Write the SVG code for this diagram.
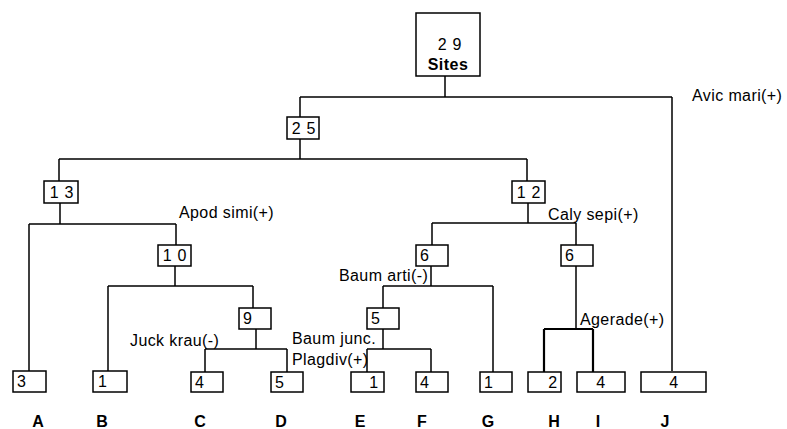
<svg xmlns="http://www.w3.org/2000/svg" width="787" height="429" viewBox="0 0 787 429">
<style>
.box{fill:#fff;stroke:#000;stroke-width:1.5}
.ln{fill:none;stroke:#000;stroke-width:1.5}
.bold{stroke-width:2.2}
text{font-family:"Liberation Sans",Arial,sans-serif;fill:#000}
.num{font-size:16px;letter-spacing:0.8px}
.lab{font-size:16px;letter-spacing:0.4px}
.leaf{font-size:16px;font-weight:bold;text-anchor:middle}
</style>
<rect width="787" height="429" fill="#fff"/>
<g id="connectors">
<path class="ln" d="M445,76V97M300,97H672M300,97V117M672,97V371"/>
<path class="ln" d="M300,139V159M59,159H527M59,159V181M527,159V181"/>
<path class="ln" d="M60,203V224M29,224H176M29,224V371M176,224V245"/>
<path class="ln" d="M175,266V286M108,286H253M108,286V371M253,286V308"/>
<path class="ln" d="M256,329V349M205,349H287M205,349V372M287,349V372"/>
<path class="ln" d="M528,203V223M432,223H576M432,223V245M576,223V245"/>
<path class="ln" d="M431,266V286M383,286H493M383,286V308M493,286V372"/>
<path class="ln" d="M383,329V349M367,349H431M367,349V372M431,349V372"/>
<path class="ln" d="M576,266V329"/>
<path class="ln bold" d="M544,329H593M544,329V372M593,329V372"/>
</g>
<g id="labels">
<text class="lab" x="692" y="101">Avic mari(+)</text>
<text class="lab" x="179" y="218">Apod simi(+)</text>
<text class="lab" x="548" y="220">Caly sepi(+)</text>
<text class="lab" x="339" y="281">Baum arti(-)</text>
<text class="lab" x="130" y="346">Juck krau(-)</text>
<text class="lab" x="292" y="344">Baum junc.</text>
<text class="lab" x="292" y="365">Plagdiv(+)</text>
<text class="lab" x="580" y="325">Agerade(+)</text>
</g>
<g id="root"><rect class="box" x="416" y="13" width="64" height="63"/><text class="num" x="450" y="50" text-anchor="middle">2 9</text><text x="448" y="70" text-anchor="middle" style="font-size:16px;font-weight:bold;letter-spacing:0.5px">Sites</text></g>
<g id="n25"><rect class="box" x="287" y="117" width="32" height="22"/><text class="num" x="304" y="134" text-anchor="middle">2 5</text></g>
<g id="n13"><rect class="box" x="44" y="181" width="34" height="22"/><text class="num" x="62" y="198" text-anchor="middle">1 3</text></g>
<g id="n12"><rect class="box" x="512" y="181" width="33" height="22"/><text class="num" x="529" y="198" text-anchor="middle">1 2</text></g>
<g id="n10"><rect class="box" x="158" y="245" width="33" height="21"/><text class="num" x="175" y="261" text-anchor="middle">1 0</text></g>
<g id="n6a"><rect class="box" x="416" y="245" width="32" height="21"/><text class="num" x="420" y="261">6</text></g>
<g id="n6b"><rect class="box" x="561" y="245" width="32" height="21"/><text class="num" x="565" y="261">6</text></g>
<g id="n9"><rect class="box" x="239" y="308" width="32" height="21"/><text class="num" x="243" y="324">9</text></g>
<g id="n5"><rect class="box" x="367" y="308" width="32" height="21"/><text class="num" x="371" y="324">5</text></g>
<g id="A"><rect class="box" x="13" y="371" width="33" height="21"/><text class="num" x="17" y="387">3</text><text class="leaf" x="38" y="427">A</text></g>
<g id="B"><rect class="box" x="93" y="371" width="34" height="21"/><text class="num" x="98" y="387">1</text><text class="leaf" x="102" y="427">B</text></g>
<g id="C"><rect class="box" x="191" y="372" width="32" height="20"/><text class="num" x="195" y="388">4</text><text class="leaf" x="200" y="427">C</text></g>
<g id="D"><rect class="box" x="271" y="372" width="32" height="20"/><text class="num" x="275" y="388">5</text><text class="leaf" x="281" y="427">D</text></g>
<g id="E"><rect class="box" x="351" y="372" width="33" height="20"/><text class="num" x="379" y="388" text-anchor="end">1</text><text class="leaf" x="360" y="427">E</text></g>
<g id="F"><rect class="box" x="416" y="372" width="32" height="20"/><text class="num" x="420" y="388">4</text><text class="leaf" x="422" y="427">F</text></g>
<g id="G"><rect class="box" x="480" y="372" width="32" height="20"/><text class="num" x="484" y="388">1</text><text class="leaf" x="488" y="427">G</text></g>
<g id="H"><rect class="box" x="528" y="372" width="33" height="20"/><text class="num" x="558" y="388" text-anchor="end">2</text><text class="leaf" x="554" y="427">H</text></g>
<g id="I"><rect class="box" x="577" y="372" width="48" height="20"/><text class="num" x="601" y="388" text-anchor="middle">4</text><text class="leaf" x="598" y="427">I</text></g>
<g id="J"><rect class="box" x="641" y="372" width="65" height="20"/><text class="num" x="674" y="388" text-anchor="middle">4</text><text class="leaf" x="665" y="427">J</text></g>
</svg>
